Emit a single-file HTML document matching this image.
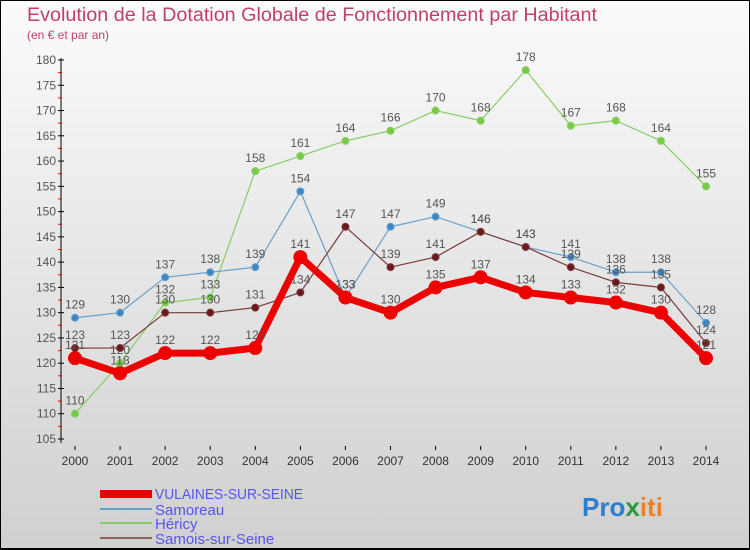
<!DOCTYPE html>
<html><head><meta charset="utf-8"><style>
body{margin:0;width:750px;height:550px;overflow:hidden;font-family:"Liberation Sans",sans-serif}
#wrap{position:relative;width:748px;height:548px;border:1px solid #000;border-bottom:2px solid #000;height:547px;background:linear-gradient(#fbfbfb,#d0d0d0)}
</style></head><body>
<div id="wrap">
<svg id="chart" width="750" height="550" style="position:absolute;left:-1px;top:-1px">
<text x="27" y="21" font-size="19" fill="#c0406a" textLength="570" lengthAdjust="spacingAndGlyphs">Evolution de la Dotation Globale de Fonctionnement par Habitant</text>
<text x="27" y="39" font-size="12" fill="#c0406a">(en € et par an)</text>
<g id="axes"></g><g id="series"></g>
<g font-size="15" fill="#5555ee">
<rect x="100" y="490" width="52" height="8" fill="#ee0000"/>
<text x="155" y="499" textLength="148" lengthAdjust="spacingAndGlyphs">VULAINES-SUR-SEINE</text>
<rect x="100" y="508" width="52" height="2" fill="#6aa0c8"/>
<text x="155" y="515">Samoreau</text>
<rect x="100" y="522" width="52" height="2" fill="#88cc66"/>
<text x="155" y="529">Héricy</text>
<rect x="100" y="537" width="52" height="2" fill="#8a6060"/>
<text x="155" y="544">Samois-sur-Seine</text>
</g>
<text x="582" y="516" font-size="26" font-weight="bold"><tspan fill="#2a7fd0">Pro</tspan><tspan fill="#2a9a3a">x</tspan><tspan fill="#f08020">iti</tspan></text>
</svg>
</div>
<script>
const years=[2000,2001,2002,2003,2004,2005,2006,2007,2008,2009,2010,2011,2012,2013,2014];
const vulaines=[121,118,122,122,123,141,133,130,135,137,134,133,132,130,121];
const samoreau=[129,130,137,138,139,154,133,147,149,146,143,141,138,138,128];
const hericy=[110,120,132,133,158,161,164,166,170,168,178,167,168,164,155];
const samois=[123,123,130,130,131,134,147,139,141,146,143,139,136,135,124];
const yTicks=[105,110,115,120,125,130,135,140,145,150,155,160,165,170,175,180];
const NS="http://www.w3.org/2000/svg";
const X=i=>75+i*(631/14);
const Y=v=>439-(v-105)*(379/75);
function mk(tag,attrs,parent){const e=document.createElementNS(NS,tag);for(const k in attrs)e.setAttribute(k,attrs[k]);parent.appendChild(e);return e;}
const ax=document.getElementById('axes');
let a=mk('line',{x1:61,y1:58,x2:61,y2:443,stroke:'#000'},ax);


yTicks.forEach(v=>{
 mk('line',{x1:58,x2:64,y1:Y(v),y2:Y(v),stroke:'#000'},ax);
 if(v<180) mk('line',{x1:58,x2:62,y1:Y(v+2.5),y2:Y(v+2.5),stroke:'#e00'},ax);
 const t=mk('text',{x:56,y:Y(v)+4,'font-size':12,fill:'#555','text-anchor':'end'},ax);t.textContent=v;
 
 
});
years.forEach((y,i)=>{
 mk('line',{x1:X(i),x2:X(i),y1:446,y2:450,stroke:'#000'},ax);
 const t=mk('text',{x:X(i),y:465,'font-size':12,fill:'#333','text-anchor':'middle'},ax);t.textContent=y;
 
 
});
const sg=document.getElementById('series');
function draw(data,name,color,w,r,dot){
 const g=mk('g',{},sg);
 
 
 const pl=mk('polyline',{points:data.map((v,i)=>X(i)+','+Y(v)).join(' '),fill:'none',stroke:color,'stroke-width':w,'stroke-linejoin':'round'},g);
 data.forEach((v,i)=>{
  const c=mk('circle',{cx:X(i),cy:Y(v),r:r,fill:dot,stroke:color,'stroke-width':1},g);
  
  
  const t=mk('text',{x:X(i),y:Y(v)-9,'font-size':12,fill:'#555','text-anchor':'middle'},g);t.textContent=v;
  
  
 });
}
draw(hericy,'hericy','#88cc66',1.2,3.5,'#77cc44');
draw(samoreau,'samoreau','#6aa0c8',1.2,3.5,'#3a88c8');
draw(samois,'samois','#7a3a3a',1.2,3.5,'#6a1a1a');
draw(vulaines,'vulaines','#ee0000',7,6.5,'#ee0000');
</script>
</body></html>
